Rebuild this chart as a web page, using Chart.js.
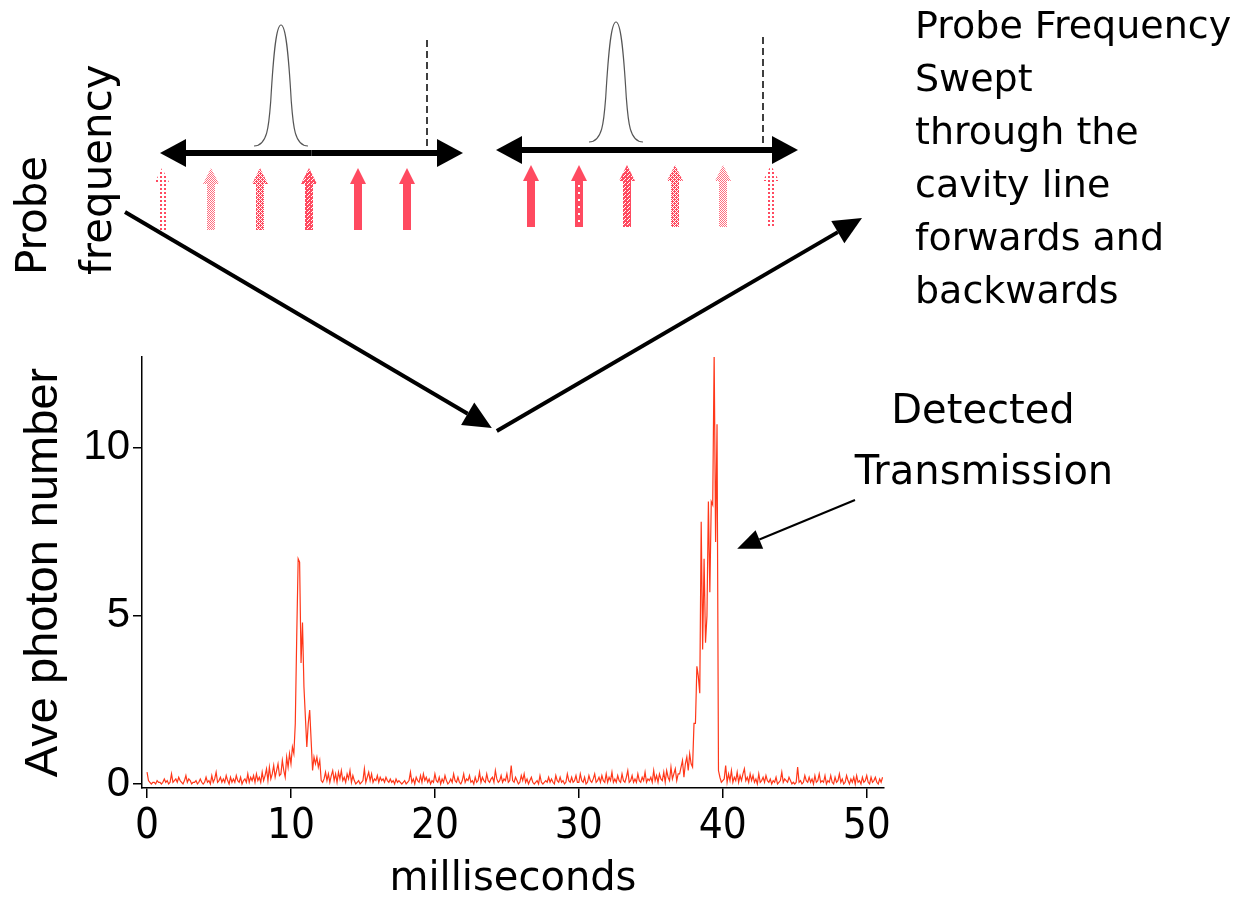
<!DOCTYPE html>
<html>
<head>
<meta charset="utf-8">
<script src="https://cdn.jsdelivr.net/npm/chart.js@4"></script>
<style>
  body { margin: 0; background: #fff; }
  #wrap { width: 1240px; height: 905px; }
</style>
</head>
<body>
<div id="wrap"><canvas id="chart" width="1240" height="905"></canvas></div>
<script>
// sampling of the detector trace (ms)
const sampleStepMs = 0.1;

// average photon number, one value per 0.1 ms
const baseline0to9 = [
  0.35,0.1,0.05,0.0,0.05,0.05,0.0,0.1,0.05,0.05,
  0.0,0.05,0.15,0.05,0.1,0.0,0.05,0.3,0.05,0.1,
  0.15,0.05,0.2,0.1,0.05,0.0,0.1,0.25,0.05,0.15,
  0.1,0.0,0.05,0.05,0.1,0.0,0.05,0.15,0.05,0.0,
  0.05,0.2,0.05,0.1,0.0,0.25,0.05,0.15,0.35,0.05,
  0.1,0.2,0.05,0.15,0.05,0.25,0.1,0.0,0.2,0.05,
  0.15,0.05,0.25,0.1,0.05,0.2,0.0,0.1,0.15,0.05,
  0.3,0.05,0.2,0.1,0.25,0.05,0.3,0.1,0.2,0.05,
  0.35,0.1,0.25,0.45,0.1,0.5,0.15,0.3,0.55,0.2
];
const forwardSweep = [
  0.4,0.6,0.25,0.3,0.7,0.4,0.2,0.8,0.5,0.9,
  0.6,1.1,0.9,1.8,4.4,6.7,6.6,3.6,4.8,2.9,
  2.0,1.1,1.8,2.2,1.3,0.4,0.8,0.6,0.8,0.5,
  0.7,0.1
];
const baseline12to37 = [
  0.05,0.15,0.35,0.1,0.3,0.05,0.25,0.4,
  0.1,0.3,0.05,0.35,0.15,0.4,0.1,0.2,0.05,0.3,
  0.15,0.4,0.05,0.25,0.1,0.0,0.05,0.1,0.0,0.05,
  0.1,0.45,0.05,0.2,0.35,0.1,0.3,0.05,0.15,0.1,
  0.25,0.05,0.2,0.1,0.15,0.05,0.2,0.1,0.05,0.15,
  0.05,0.1,0.0,0.15,0.05,0.1,0.05,0.0,0.05,0.1,
  0.0,0.05,0.1,0.35,0.05,0.15,0.0,0.2,0.1,0.05,
  0.25,0.05,0.3,0.1,0.2,0.05,0.15,0.0,0.1,0.05,
  0.3,0.1,0.05,0.2,0.0,0.15,0.05,0.25,0.1,0.0,
  0.05,0.15,0.05,0.3,0.1,0.05,0.2,0.05,0.0,0.1,
  0.3,0.05,0.15,0.1,0.25,0.05,0.1,0.0,0.2,0.05,
  0.1,0.35,0.05,0.2,0.1,0.05,0.3,0.1,0.05,0.15,
  0.2,0.05,0.4,0.15,0.05,0.1,0.25,0.05,0.15,0.1,
  0.3,0.05,0.1,0.55,0.1,0.05,0.2,0.1,0.0,0.05,
  0.25,0.1,0.3,0.05,0.15,0.0,0.1,0.2,0.05,0.0,
  0.05,0.1,0.0,0.25,0.05,0.0,0.05,0.1,0.05,0.2,
  0.05,0.15,0.05,0.0,0.25,0.1,0.05,0.2,0.05,0.1,
  0.0,0.05,0.3,0.1,0.05,0.2,0.05,0.1,0.25,0.05,
  0.05,0.3,0.1,0.05,0.2,0.0,0.05,0.25,0.1,0.05,
  0.15,0.3,0.05,0.1,0.2,0.05,0.25,0.1,0.05,0.3,
  0.05,0.2,0.1,0.35,0.05,0.15,0.05,0.25,0.1,0.05,
  0.3,0.1,0.05,0.2,0.4,0.05,0.1,0.25,0.05,0.15,
  0.05,0.3,0.1,0.05,0.2,0.1,0.35,0.05,0.15,0.1,
  0.2,0.05,0.4,0.1,0.25,0.05,0.3,0.15,0.1,0.35,
  0.05,0.4,0.2,0.1,0.5,0.15,0.3,0.45,0.1,0.3
];
const backwardSweep = [
  0.3,0.5,0.7,0.2,0.6,0.8,0.4,0.9,0.6,0.5,
  1.8,1.8,3.5,3.2,2.7,7.8,4.0,6.7,4.2,5.0,
  8.4,5.7,8.4,8.3,12.8,7.2,10.7,0.4,0.2,0.05
];
const baseline40to51 = [
  0.1,0.15,0.55,0.05,0.3,0.1,0.4,0.05,0.2,0.1,
  0.35,0.05,0.25,0.1,0.3,0.45,0.1,0.2,0.05,0.3,
  0.1,0.25,0.05,0.15,0.0,0.3,0.05,0.1,0.2,0.05,
  0.25,0.1,0.05,0.15,0.0,0.1,0.05,0.2,0.0,0.05,
  0.1,0.35,0.05,0.15,0.1,0.05,0.2,0.1,0.0,0.05,
  0.0,0.05,0.5,0.05,0.1,0.0,0.05,0.25,0.1,0.05,
  0.2,0.05,0.15,0.0,0.25,0.05,0.1,0.3,0.05,0.1,
  0.05,0.25,0.0,0.1,0.05,0.25,0.05,0.0,0.2,0.05,
  0.1,0.3,0.05,0.15,0.0,0.05,0.25,0.1,0.0,0.15,
  0.05,0.2,0.0,0.25,0.05,0.1,0.0,0.2,0.05,0.1,
  0.25,0.05,0.0,0.2,0.05,0.1,0.2,0.05,0.0,0.15,
  0.05,0.2
];

const xTicks = [0, 10, 20, 30, 40, 50];
const yTicks = [0, 5, 10];

const photons = [].concat(baseline0to9, forwardSweep, baseline12to37, backwardSweep, baseline40to51);
const points = photons.map((v, i) => ({ x: Math.round(i * sampleStepMs * 10) / 10, y: v }));

const handFont = '"Comic Sans MS", "DejaVu Sans", sans-serif';
const probeRed = 'rgb(255,74,96)';

function drawArrow(ctx, x1, y1, x2, y2, lw, headLen, headHalf) {
  const a = Math.atan2(y2 - y1, x2 - x1);
  const bx = x2 - headLen * Math.cos(a), by = y2 - headLen * Math.sin(a);
  ctx.lineWidth = lw;
  ctx.beginPath(); ctx.moveTo(x1, y1); ctx.lineTo(bx, by); ctx.stroke();
  ctx.beginPath();
  ctx.moveTo(x2, y2);
  ctx.lineTo(bx + headHalf * Math.sin(a), by - headHalf * Math.cos(a));
  ctx.lineTo(bx - headHalf * Math.sin(a), by + headHalf * Math.cos(a));
  ctx.closePath(); ctx.fill();
}

function makePattern(ctx, cells, color) {
  const c = document.createElement('canvas');
  c.width = c.height = 4;
  const g = c.getContext('2d');
  g.fillStyle = color;
  cells.forEach(([x, y]) => g.fillRect(x, y, 1, 1));
  return ctx.createPattern(c, 'repeat');
}

function probeArrow(ctx, x, tipY, baseY, botY, fill, dotted) {
  ctx.beginPath();
  ctx.moveTo(x, tipY);
  ctx.lineTo(x + 8, baseY); ctx.lineTo(x + 4, baseY); ctx.lineTo(x + 4, botY);
  ctx.lineTo(x - 4, botY); ctx.lineTo(x - 4, baseY); ctx.lineTo(x - 8, baseY);
  ctx.closePath();
  ctx.fillStyle = fill;
  ctx.fill();
  if (dotted) {
    ctx.fillStyle = '#fff';
    for (let y = baseY + 4; y < botY - 2; y += 7) ctx.fillRect(x - 1, y, 2, 2);
  }
}

function gaussianBump(ctx, cx, peakY, baseY, half) {
  ctx.beginPath();
  ctx.moveTo(cx - half, baseY);
  ctx.bezierCurveTo(cx - half * 0.5, baseY, cx - half * 0.45, baseY - 20, cx - half * 0.38, baseY - 45);
  ctx.bezierCurveTo(cx - half * 0.27, peakY + 25, cx - half * 0.17, peakY, cx, peakY);
  ctx.bezierCurveTo(cx + half * 0.17, peakY, cx + half * 0.27, peakY + 25, cx + half * 0.38, baseY - 45);
  ctx.bezierCurveTo(cx + half * 0.45, baseY - 20, cx + half * 0.5, baseY, cx + half, baseY);
  ctx.stroke();
}

function sweepPanel(ctx, p, fills) {
  // cavity line and detuning marker
  ctx.strokeStyle = '#555'; ctx.lineWidth = 1.2;
  gaussianBump(ctx, p.lineX, p.lineTop, p.lineBase, p.lineHalf);
  ctx.strokeStyle = '#000'; ctx.lineWidth = 1.5;
  ctx.setLineDash([7, 4]);
  ctx.beginPath(); ctx.moveTo(p.dashX, p.dashTop); ctx.lineTo(p.dashX, p.axisY); ctx.stroke();
  ctx.setLineDash([]);
  // double headed frequency axis
  ctx.strokeStyle = '#000'; ctx.fillStyle = '#000';
  const mid = (p.left + p.right) / 2;
  drawArrow(ctx, mid, p.axisY, p.left, p.axisY, 6, 26, 14);
  drawArrow(ctx, mid, p.axisY, p.right, p.axisY, 6, 26, 14);
  // probe arrows
  fills.forEach((f, i) => probeArrow(ctx, p.firstProbe + i * p.probeGap, p.axisY + 15, p.axisY + 31, p.axisY + 77, f.fill, f.dots));
}

const annotate = {
  id: 'annotate',
  afterDraw(chart) {
    const ctx = chart.ctx;
    const xs = chart.scales.x, ys = chart.scales.y;
    ctx.save();

    const dots = makePattern(ctx, [[0, 0], [1, 0], [0, 1], [1, 1]], probeRed);
    const light = makePattern(ctx, [[0, 0], [2, 0], [1, 1], [3, 1], [0, 2], [2, 2], [1, 3], [3, 3]], 'rgba(255,74,96,0.8)');
    const checker = makePattern(ctx, [[0, 0], [2, 0], [1, 1], [3, 1], [0, 2], [2, 2], [1, 3], [3, 3], [0, 1], [2, 3]], probeRed);
    const dense = makePattern(ctx, [[0, 0], [1, 0], [2, 0], [1, 1], [3, 1], [0, 2], [2, 2], [3, 2], [1, 3], [3, 3], [0, 1], [2, 3], [2, 1]], probeRed);

    sweepPanel(ctx, { lineX: 281, lineTop: 25, lineBase: 146, lineHalf: 27, dashX: 427, dashTop: 40,
      axisY: 153, left: 160, right: 463, firstProbe: 162, probeGap: 49 },
      [{ fill: dots }, { fill: light }, { fill: checker }, { fill: dense }, { fill: probeRed }, { fill: probeRed }]);
    sweepPanel(ctx, { lineX: 616, lineTop: 22, lineBase: 142, lineHalf: 27, dashX: 763, dashTop: 37,
      axisY: 150, left: 496, right: 798, firstProbe: 531, probeGap: 48 },
      [{ fill: probeRed }, { fill: probeRed, dots: true }, { fill: dense }, { fill: checker }, { fill: light }, { fill: dots }]);

    // V of the two sweeps meeting on the trace
    const vx = xs.getPixelForValue(24.3), vy = ys.getPixelForValue(10.5);
    ctx.strokeStyle = '#000'; ctx.fillStyle = '#000';
    drawArrow(ctx, 125, 212, vx - 5, vy - 3, 4, 28, 13);
    drawArrow(ctx, vx, vy, 862, 218, 4, 28, 13);

    // pointer to the transmission peak
    drawArrow(ctx, 855, 500, xs.getPixelForValue(41.0), ys.getPixelForValue(7.0), 2, 24, 10);

    // labels
    ctx.fillStyle = '#000';
    ctx.textAlign = 'left'; ctx.textBaseline = 'alphabetic';
    ctx.font = '38px ' + handFont;
    ['Probe Frequency', 'Swept', 'through the', 'cavity line', 'forwards and', 'backwards']
      .forEach((t, i) => ctx.fillText(t, 915, 38 + i * 53));

    ctx.textAlign = 'center';
    ctx.font = '40px ' + handFont;
    ctx.fillText('Detected', 983, 423);
    ctx.fillText('Transmission', 984, 484);

    ctx.font = '42px ' + handFont;
    ctx.textAlign = 'left';
    [['Probe', 46], ['frequency', 111]].forEach(([t, bx]) => {
      ctx.save(); ctx.translate(bx, 275); ctx.rotate(-Math.PI / 2);
      ctx.fillText(t, 0, 0); ctx.restore();
    });

    ctx.restore();
  }
};

new Chart(document.getElementById('chart').getContext('2d'), {
  type: 'line',
  data: {
    datasets: [{
      data: points,
      borderColor: 'rgb(255,55,25)',
      borderWidth: 1.2,
      pointRadius: 0,
      tension: 0
    }]
  },
  options: {
    responsive: false,
    animation: false,
    layout: { padding: { top: 357, right: 356, left: 0, bottom: 0 } },
    plugins: { legend: { display: false }, tooltip: { enabled: false } },
    scales: {
      x: {
        type: 'linear',
        min: -0.35,
        max: 51.2,
        afterBuildTicks: s => { s.ticks = xTicks.map(v => ({ value: v })); },
        afterFit: s => { s.height = 117; },
        grid: { drawOnChartArea: false, color: '#000', lineWidth: 1.5, tickLength: 10 },
        border: { color: '#000', width: 1.5 },
        ticks: { color: '#000', padding: 4, maxRotation: 0,
          font: { family: '"Liberation Sans Narrow", "DejaVu Sans Condensed", "Liberation Sans", sans-serif', size: 42 } },
        title: { display: true, text: 'milliseconds', color: '#000',
          font: { family: handFont, size: 40, lineHeight: 1 }, padding: { top: 5, bottom: 5 } }
      },
      y: {
        type: 'linear',
        min: -0.12,
        max: 12.7,
        afterBuildTicks: s => { s.ticks = yTicks.map(v => ({ value: v })); },
        afterFit: s => { s.width = 142; },
        grid: { drawOnChartArea: false, color: '#000', lineWidth: 1.5, tickLength: 9 },
        border: { color: '#000', width: 1.5 },
        ticks: { color: '#000', padding: 3,
          font: { family: '"Liberation Sans", Arial, sans-serif', size: 42 } },
        title: { display: true, text: 'Ave photon number', color: '#000',
          font: { family: '"Liberation Sans", Arial, sans-serif', size: 47, lineHeight: 1 }, padding: { top: 21, bottom: 21 } }
      }
    }
  },
  plugins: [annotate]
});
</script>
</body>
</html>
